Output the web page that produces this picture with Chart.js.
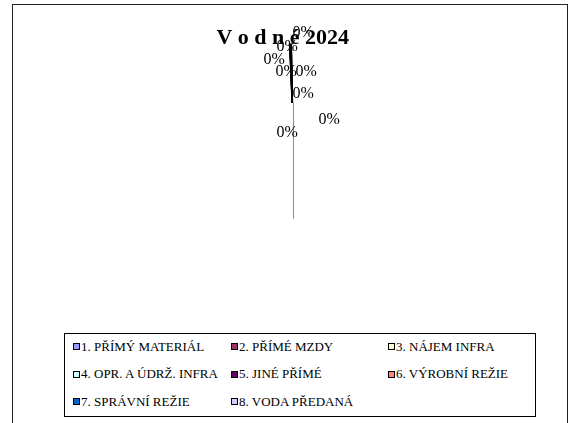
<!DOCTYPE html>
<html>
<head>
<meta charset="utf-8">
<title>Vodné 2024</title>
<script src="https://cdn.jsdelivr.net/npm/chart.js@4.4.1/dist/chart.umd.min.js"></script>
<style>
  html, body { margin: 0; padding: 0; background: #fff; overflow: hidden; }
  #page { position: relative; width: 574px; height: 423px; overflow: hidden; }
  #frame { position: absolute; left: 12px; top: 4px; width: 554px; height: 480px; border: 1px solid #222; }
  #pie { position: absolute; left: 0; top: 0; }
  #legenda {
    position: absolute; left: 64px; top: 333px; width: 470px; height: 82px;
    border: 1px solid #000; background: #fff;
  }
  #legenda-items {
    position: absolute; left: 8px; top: -1px;
    display: grid; grid-template-columns: 158px 157px 157px; grid-auto-rows: 27.5px;
    font-family: "Liberation Serif", "Times New Roman", serif; font-size: 13px; color: #000;
  }
  .polozka { display: flex; align-items: center; white-space: nowrap; }
  .znacka { width: 7px; height: 7px; box-sizing: border-box; border: 1.5px solid #000; margin-right: 1px; }
</style>
</head>
<body>
<div id="page">
  <div id="frame"></div>
  <canvas id="pie" width="567" height="240"></canvas>
  <div id="legenda"><div id="legenda-items"></div></div>
</div>
<script>
const categories = ["1. PŘÍMÝ MATERIÁL", "2. PŘÍMÉ MZDY", "3. NÁJEM INFRA", "4. OPR. A ÚDRŽ. INFRA",
                    "5. JINÉ PŘÍMÉ", "6. VÝROBNÍ REŽIE", "7. SPRÁVNÍ REŽIE", "8. VODA PŘEDANÁ"];
// shares in %, every one reads 0% in the picture
const shares = [0.1, 0.1, 0.1, 0.1, 0.1, 0.1, 0.1, 0.1];
const colors = ['#9999FF', '#993366', '#FFFFCC', '#CCFFFF', '#660066', '#FF8080', '#0066CC', '#CCCCFF'];

// where each "0%" label sits, relative to the pie centre
const labelOffsets = [[10, -99], [-6, -85], [-19, -72], [-7, -60], [13, -60], [10, -38], [36, -12], [-6, 1]];

const guideLine = {
    id: 'guideLine',
    beforeDatasetsDraw(chart) {
        const arc = chart.getDatasetMeta(0).data[0];
        if (!arc) return;
        const p = arc.getProps(['x', 'y', 'innerRadius', 'outerRadius'], true);
        const ctx = chart.ctx;
        ctx.save();
        ctx.strokeStyle = '#8c8c8c';
        ctx.lineWidth = 1;
        ctx.beginPath();
        ctx.moveTo(Math.round(p.x) + 0.5, p.y - p.innerRadius);
        ctx.lineTo(Math.round(p.x) + 0.5, p.y + p.outerRadius);
        ctx.stroke();
        ctx.restore();
    }
};

const pctLabels = {
    id: 'pctLabels',
    afterDatasetsDraw(chart) {
        const ctx = chart.ctx;
        const arcs = chart.getDatasetMeta(0).data;
        ctx.save();
        ctx.font = '16px "Liberation Serif", "Times New Roman", serif';
        ctx.fillStyle = '#000';
        ctx.textAlign = 'center';
        ctx.textBaseline = 'middle';
        arcs.forEach((arc, i) => {
            const p = arc.getProps(['x', 'y'], true);
            ctx.fillText(Math.round(shares[i]) + '%', p.x + labelOffsets[i][0], p.y + labelOffsets[i][1]);
        });
        ctx.restore();
    }
};

const chart = new Chart(document.getElementById('pie'), {
    type: 'doughnut',
    data: {
        labels: categories,
        datasets: [{
            data: shares,
            backgroundColor: colors,
            borderColor: '#000',
            borderWidth: 1
        }]
    },
    options: {
        responsive: false,
        animation: false,
        cutout: '33%',
        rotation: -2.5,
        circumference: 1.5,
        layout: { padding: { left: 15, right: 0, top: 0, bottom: 137 } },
        plugins: {
            legend: { display: false },
            tooltip: { enabled: false },
            title: {
                display: true,
                // trailing spaces nudge the centred title a little left, as in the original
                text: 'V o d n é 2024   ',
                color: '#000',
                font: { family: '"Liberation Serif", "Times New Roman", serif', size: 22, weight: 'bold' },
                padding: { top: 25, bottom: -8 }
            }
        }
    },
    plugins: [guideLine, pctLabels]
});

// legend in three fixed columns, like the original
const box = document.getElementById('legenda-items');
categories.forEach((name, i) => {
    const item = document.createElement('div');
    item.className = 'polozka';
    const mark = document.createElement('span');
    mark.className = 'znacka';
    mark.style.background = colors[i];
    const txt = document.createElement('span');
    txt.textContent = name;
    item.appendChild(mark);
    item.appendChild(txt);
    box.appendChild(item);
});
</script>
</body>
</html>
